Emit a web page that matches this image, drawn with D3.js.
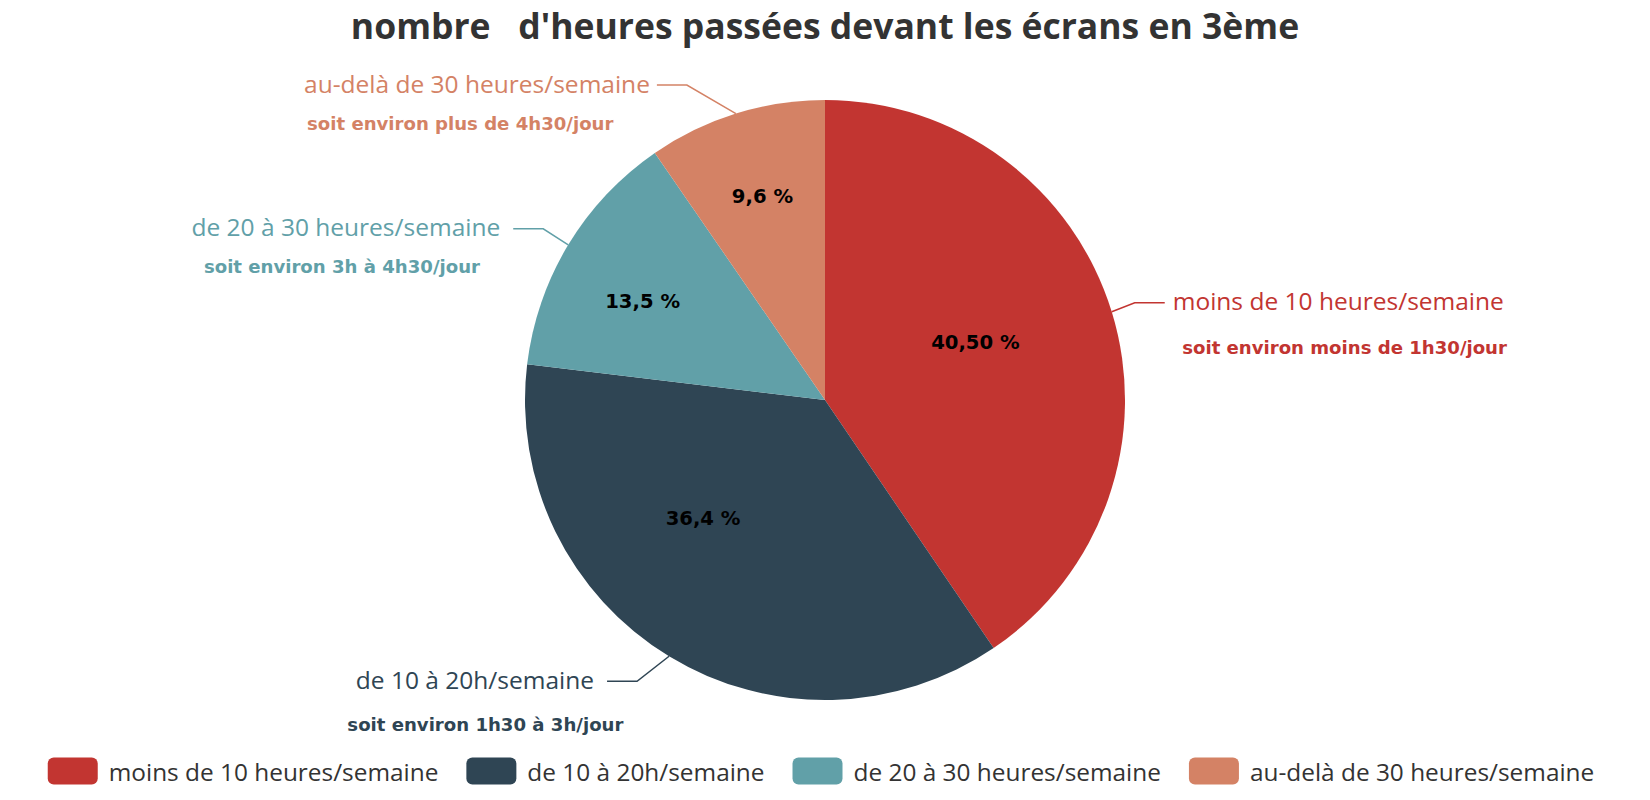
<!DOCTYPE html>
<html>
<head>
<meta charset="utf-8">
<script src="https://cdn.jsdelivr.net/npm/d3@7/dist/d3.min.js"></script>
<style>
  html, body { margin: 0; padding: 0; background: #fff; }
  svg { display: block; }
  text { white-space: pre; }
</style>
</head>
<body>
<svg id="chart" width="1650" height="800"></svg>
<script>
// ---- data ----
const titleText = "nombre   d'heures passées devant les écrans en 3ème";
const categories = ["moins de 10 heures/semaine", "de 10 à 20h/semaine", "de 20 à 30 heures/semaine", "au-delà de 30 heures/semaine"];
const values = [40.5, 36.4, 13.5, 9.6];
const percentLabels = ["40,50 %", "36,4 %", "13,5 %", "9,6 %"];
const subLabels = ["soit environ moins de 1h30/jour", "soit environ 1h30 à 3h/jour", "soit environ 3h à 4h30/jour", "soit environ plus de 4h30/jour"];
const colors = ["#c23531", "#2f4554", "#61a0a8", "#d48265"];

// ---- layout (not data) ----
const W = 1650, H = 800;
const cx = 825, cy = 400, R = 300;
const nameFont = "'Open Sans', 'Noto Sans', sans-serif";
const comicFont = "'DejaVu Sans', sans-serif";
// inner label offsets from the arc centroid
const innerOffsets = [[7, -13], [-44, -10], [-54, -21], [-18, -60]];
// elbow offset from slice edge point, horizontal segment length, sub-line offsets
const elbowOffsets = [[23, -9], [-32, 25], [-25, -16], [-49, -28.5]];
const len2 = 30;
const textGap = [8, 13, 13, 7];
const subGap = [47, 45, 40, 40];
const subShift = [9.5, -8.5, 12.5, 3];

const svg = d3.select("#chart");
svg.append("rect").attr("width", W).attr("height", H).attr("fill", "#fff");

// title
svg.append("text")
  .attr("x", cx).attr("y", 38.5)
  .attr("text-anchor", "middle")
  .attr("font-family", nameFont)
  .attr("font-weight", "bold")
  .attr("font-size", 35.5)
  .attr("fill", "#333")
  .text(titleText);

const pie = d3.pie().sort(null).value(d => d).startAngle(0).endAngle(2 * Math.PI);
const arcs = pie(values);
const arc = d3.arc().innerRadius(0).outerRadius(R);
const edgeArc = d3.arc().innerRadius(R).outerRadius(R);

const g = svg.append("g").attr("transform", `translate(${cx},${cy})`);

g.selectAll("path.slice").data(arcs).enter().append("path")
  .attr("class", "slice")
  .attr("d", arc)
  .attr("fill", (d, i) => colors[i]);

// inner percentage labels
g.selectAll("text.pct").data(arcs).enter().append("text")
  .attr("class", "pct")
  .attr("x", (d, i) => arc.centroid(d)[0] + innerOffsets[i][0])
  .attr("y", (d, i) => arc.centroid(d)[1] + innerOffsets[i][1])
  .attr("text-anchor", "middle")
  .attr("dominant-baseline", "central")
  .attr("font-family", comicFont)
  .attr("font-weight", "bold")
  .attr("font-size", 19.6)
  .attr("fill", "#000")
  .text((d, i) => percentLabels[i]);

// outer labels with label lines
arcs.forEach((d, i) => {
  const e = edgeArc.centroid(d);
  const right = e[0] > 0;
  const el = [e[0] + elbowOffsets[i][0], e[1] + elbowOffsets[i][1]];
  const end = [el[0] + (right ? len2 : -len2), el[1]];
  g.append("path")
    .attr("d", d3.line()([e, el, end]))
    .attr("fill", "none")
    .attr("stroke", colors[i])
    .attr("stroke-width", 1.5);
  const nx = end[0] + (right ? textGap[i] : -textGap[i]);
  const name = g.append("text")
    .attr("x", nx).attr("y", el[1] - 2)
    .attr("text-anchor", right ? "start" : "end")
    .attr("dominant-baseline", "central")
    .attr("font-family", nameFont)
    .attr("font-size", 24.5)
    .attr("fill", colors[i])
    .text(categories[i]);
  const bb = name.node().getBBox();
  g.append("text")
    .attr("x", bb.x + subShift[i]).attr("y", el[1] - 2 + subGap[i])
    .attr("text-anchor", "start")
    .attr("dominant-baseline", "central")
    .attr("font-family", comicFont)
    .attr("font-weight", "bold")
    .attr("font-size", 18.1)
    .attr("fill", colors[i])
    .text(subLabels[i]);
});

// legend
const legend = svg.append("g");
const iconW = 50, iconH = 27, iconGap = 11, itemGap = 28;
let xPos = 0;
categories.forEach((c, i) => {
  const item = legend.append("g").attr("transform", `translate(${xPos},0)`);
  item.append("rect").attr("x", 0).attr("y", -iconH / 2)
    .attr("width", iconW).attr("height", iconH)
    .attr("rx", 6).attr("ry", 6).attr("fill", colors[i]);
  const t = item.append("text")
    .attr("x", iconW + iconGap).attr("y", 0)
    .attr("dominant-baseline", "central")
    .attr("font-family", nameFont)
    .attr("font-size", 24.4)
    .attr("fill", "#333")
    .text(c);
  xPos += iconW + iconGap + t.node().getComputedTextLength() + itemGap;
});
const totalW = xPos - itemGap;
legend.attr("transform", `translate(${821 - totalW / 2},${771})`);
</script>
</body>
</html>
